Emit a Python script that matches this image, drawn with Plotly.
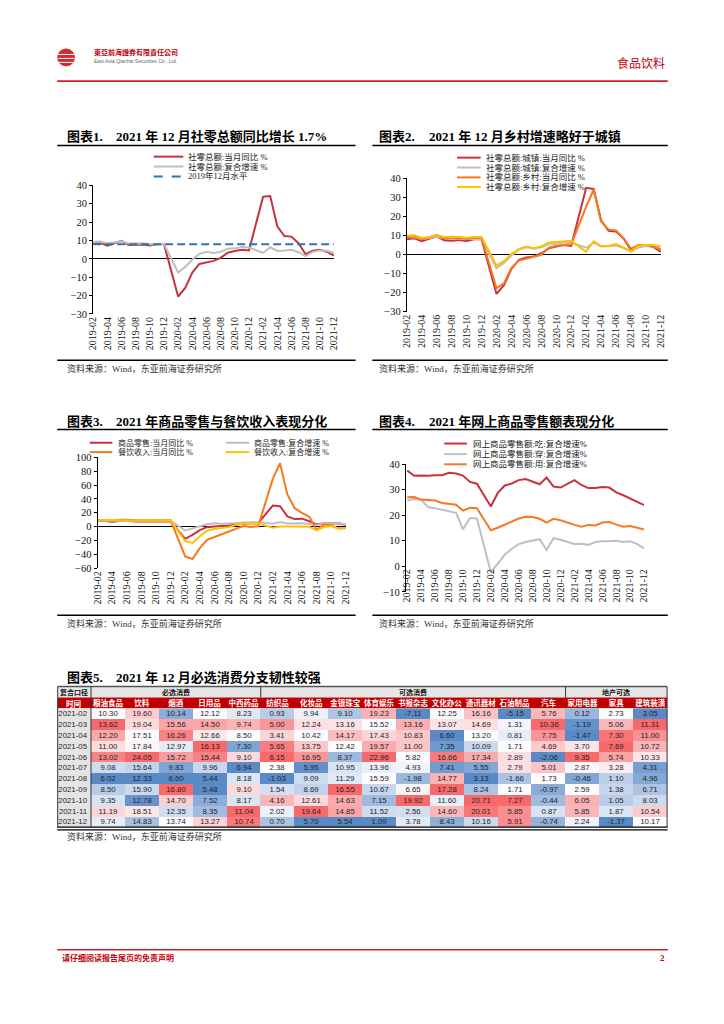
import statistics
import plotly.graph_objects as go

W, H = 724, 1024


def X(px):
    return px / W


def Y(py):
    return 1 - py / H


CJK = "Noto Sans CJK SC"
SERIF = "Liberation Serif, Noto Sans CJK SC"
SANS = "Liberation Sans, Noto Sans CJK SC"

# ---------------------------------------------------------------- data
MONTHS = ["2019-02", "2019-03", "2019-04", "2019-05", "2019-06", "2019-07", "2019-08", "2019-09",
          "2019-10", "2019-11", "2019-12",
          "2020-01", "2020-02", "2020-03", "2020-04", "2020-05", "2020-06", "2020-07", "2020-08",
          "2020-09", "2020-10", "2020-11", "2020-12",
          "2021-01", "2021-02", "2021-03", "2021-04", "2021-05", "2021-06", "2021-07", "2021-08",
          "2021-09", "2021-10", "2021-11", "2021-12"]
TICK_MONTHS = ["2019-02", "2019-04", "2019-06", "2019-08", "2019-10", "2019-12",
               "2020-02", "2020-04", "2020-06", "2020-08", "2020-10", "2020-12",
               "2021-02", "2021-04", "2021-06", "2021-08", "2021-10", "2021-12"]

# Chart 1
C1_TOTAL_YOY = [8.2, 8.7, 7.2, 8.6, 9.8, 7.6, 7.5, 7.8, 7.2, 8.0, 8.0,
                None, -20.5, -15.8, -7.5, -2.8, -1.8, -1.1, 0.5, 3.3, 4.3, 5.0, 4.6,
                None, 33.8, 34.2, 17.7, 12.4, 12.1, 8.5, 2.5, 4.4, 4.9, 3.9, 1.7]
C1_TOTAL_CAGR = [9.2, 9.4, 8.3, 8.9, 9.6, 8.4, 8.6, 8.5, 8.0, 8.3, 8.2,
                 None, -7.4, -4.4, -0.4, 2.7, 3.8, 3.2, 3.9, 5.5, 5.7, 6.5, 6.2,
                 None, 3.2, 6.3, 4.3, 4.5, 4.9, 3.6, 1.5, 3.8, 4.6, 4.4, 3.1]
C1_LEVEL_2019_12 = 8.0

# Chart 2
C2_URBAN_YOY = [8.0, 8.5, 7.0, 8.4, 9.5, 7.4, 7.2, 7.6, 7.0, 7.9, 7.9,
                None, -20.7, -16.1, -7.6, -2.8, -1.6, -1.1, 0.6, 3.2, 4.2, 4.9, 4.5,
                None, 34.9, 34.3, 17.8, 12.4, 12.0, 8.4, 2.3, 4.4, 4.8, 3.9, 1.3]
C2_URBAN_CAGR = [9.0, 9.0, 8.0, 8.5, 9.3, 8.5, 8.4, 8.4, 8.0, 8.0, 8.0,
                 None, -7.2, -4.5, -0.6, 2.6, 3.8, 3.0, 3.7, 5.3, 5.6, 6.3, 6.1,
                 None, 3.5, 6.2, 4.2, 4.3, 4.7, 3.4, 1.3, 3.6, 4.4, 4.3, 2.9]
C2_RURAL_YOY = [9.1, 9.5, 8.0, 9.2, 10.1, 8.5, 8.6, 8.7, 8.2, 8.8, 8.8,
                None, -17.7, -15.2, -7.0, -3.2, -2.2, -1.6, -0.2, 3.5, 4.5, 5.0, 5.2,
                None, 25.0, 33.9, 17.2, 13.0, 12.6, 8.6, 3.0, 4.9, 5.0, 4.2, 2.6]
C2_RURAL_CAGR = [9.8, 10.0, 8.6, 9.0, 10.2, 9.2, 9.3, 9.2, 8.7, 9.2, 9.2,
                 None, -5.8, -3.5, 0.3, 2.8, 4.2, 3.3, 4.2, 6.3, 6.7, 7.0, 7.2,
                 None, 1.4, 6.9, 4.4, 4.6, 5.4, 3.7, 1.7, 4.5, 5.1, 4.9, 4.2]

# Chart 3
C3_GOODS_YOY = [8.1, 8.5, 6.8, 8.2, 9.6, 7.5, 7.4, 7.7, 7.1, 7.9, 7.9,
                None, -17.6, -12.0, -5.1, -0.8, 0.2, 0.6, 1.6, 3.5, 4.6, 5.0, 4.9,
                None, 30.5, 29.6, 14.8, 10.9, 11.5, 7.8, 3.3, 4.5, 4.6, 4.8, 2.4]
C3_GOODS_CAGR = [8.6, 8.8, 7.6, 8.5, 9.4, 8.2, 8.1, 8.3, 7.6, 8.2, 8.3,
                 None, -5.5, -2.4, 0.8, 3.5, 4.7, 4.0, 4.5, 5.6, 5.9, 6.4, 6.3,
                 None, 4.2, 6.5, 4.5, 4.5, 5.0, 3.9, 2.4, 4.1, 4.6, 4.8, 3.6]
C3_CATER_YOY = [9.7, 9.6, 8.2, 9.9, 10.0, 9.1, 8.9, 9.1, 8.7, 9.3, 9.5,
                None, -43.1, -46.8, -31.1, -18.9, -15.2, -11.0, -7.0, -2.9, 0.8, -0.6, 0.4,
                None, 68.9, 91.6, 46.4, 26.6, 20.0, 14.3, -4.5, 3.1, 2.0, -2.7, -2.2]
C3_CATER_CAGR = [9.5, 9.6, 9.0, 9.6, 9.8, 9.0, 9.0, 9.0, 8.6, 9.2, 9.3,
                 None, -21.0, -23.5, -14.0, -6.0, -3.5, -2.0, -0.5, 2.5, 4.5, 4.2, 4.5,
                 None, -1.5, 0.2, 0.3, 0.5, 0.0, 0.0, -5.5, -0.5, 1.0, -2.5, -1.5]

# Chart 4
C4_FOOD = [37.4, 35.4, 35.5, 35.4, 35.6, 35.6, 36.6, 36.3, 35.5, 33.0, 32.3,
           None, 23.4, 28.7, 31.6, 32.4, 33.7, 34.1, 33.2, 32.1, 34.7, 31.2, 30.8,
           None, 33.7, 31.8, 30.6, 30.6, 31.0, 30.8, 28.9, 27.8, 26.5, 25.4, 23.9]
C4_CLOTH = [25.7, 26.3, 26.0, 23.1, 22.7, 22.1, 21.6, 20.9, 14.5, 18.9, 18.7,
            None, -2.3, 1.1, 4.6, 6.8, 8.7, 9.5, 10.0, 10.6, 6.4, 11.0, 10.4,
            None, 8.7, 8.8, 8.4, 9.5, 9.8, 9.8, 10.0, 9.5, 9.8, 8.7, 7.0]
C4_USE = [27.0, 27.1, 26.1, 25.8, 25.7, 24.8, 24.5, 24.1, 21.8, 22.9, 22.7,
          None, 14.1, 15.1, 16.2, 17.3, 18.7, 19.4, 19.3, 18.6, 17.1, 18.6, 18.0,
          None, 16.2, 15.5, 16.2, 16.0, 17.1, 17.3, 16.3, 15.5, 15.8, 15.1, 14.4]

# Table (chart 5)
T_DATES = ["2021-02", "2021-03", "2021-04", "2021-05", "2021-06", "2021-07",
           "2021-08", "2021-09", "2021-10", "2021-11", "2021-12"]
T_GRAIN = [10.30, 13.62, 12.20, 11.00, 13.02, 9.08, 6.02, 8.50, 9.35, 11.19, 9.74]
T_DRINK = [19.60, 19.04, 17.51, 17.84, 24.05, 15.64, 12.33, 15.90, 12.78, 18.51, 14.83]
T_TOBACCO = [10.14, 15.56, 16.26, 12.97, 15.72, 9.83, 8.60, 16.80, 14.70, 12.35, 13.74]
T_DAILY = [12.12, 14.50, 12.66, 16.13, 15.44, 9.96, 5.44, 5.48, 7.52, 8.35, 13.27]
T_MEDICINE = [8.23, 9.74, 8.50, 7.30, 9.10, 6.94, 8.18, 9.10, 8.17, 11.04, 10.74]
T_TEXTILE = [0.93, 5.00, 3.41, 5.65, 6.15, 2.38, -1.03, 1.54, 4.16, 2.02, 0.70]
T_COSMETIC = [9.94, 12.24, 10.42, 13.75, 16.95, 5.95, 9.09, 8.69, 12.61, 19.64, 5.70]
T_JEWELRY = [9.10, 13.16, 14.17, 12.42, 8.37, 10.95, 11.29, 16.55, 14.63, 14.85, 5.54]
T_SPORTS = [19.23, 15.52, 17.43, 19.57, 22.96, 13.96, 15.59, 10.67, 7.15, 11.52, 1.09]
T_BOOKS = [-7.11, 13.16, 10.83, 11.00, 5.82, 4.93, -1.98, 6.65, 19.92, 2.56, 3.78]
T_OFFICE = [12.25, 13.07, 6.60, 7.35, 16.66, 7.41, 14.77, 17.28, 11.60, 14.60, 8.43]
T_TELECOM = [16.16, 14.69, 13.20, 10.09, 17.34, 5.55, 3.13, 8.24, 20.71, 20.01, 10.16]
T_OIL = [-5.15, 1.31, 0.81, 1.71, 2.89, 2.79, -1.66, 1.71, 7.27, 5.85, 5.91]
T_AUTO = [5.76, 10.36, 7.75, 4.69, -2.06, 5.01, 1.73, -0.97, -0.44, 0.87, -0.74]
T_APPLIANCE = [0.12, -1.19, -1.47, 3.70, 9.35, 2.87, -0.46, 2.59, 6.05, 5.85, 2.24]
T_FURNITURE = [2.73, 5.06, 7.30, 7.69, 5.74, 3.28, 1.10, 1.38, 1.05, 1.87, -1.37]
T_BUILDING = [3.05, 11.31, 11.00, 10.72, 10.33, 4.31, 4.96, 6.71, 8.03, 10.54, 10.17]

T_HEADERS = ["粮油食品", "饮料", "烟酒", "日用品", "中西药品", "纺织品", "化妆品", "金银珠宝",
             "体育娱乐", "书报杂志", "文化办公", "通讯器材", "石油制品", "汽车", "家用电器",
             "家具", "建筑装潢"]
T_COLUMNS = [T_GRAIN, T_DRINK, T_TOBACCO, T_DAILY, T_MEDICINE, T_TEXTILE, T_COSMETIC,
             T_JEWELRY, T_SPORTS, T_BOOKS, T_OFFICE, T_TELECOM, T_OIL, T_AUTO,
             T_APPLIANCE, T_FURNITURE, T_BUILDING]

# ---------------------------------------------------------------- helpers
fig = go.Figure()
shapes = []
anns = []
layout = {}


def hline(x0, x1, y, color="#000", width=1.0, dash=None):
    shapes.append(dict(type="line", xref="paper", yref="paper", x0=X(x0), x1=X(x1),
                       y0=Y(y), y1=Y(y), line=dict(color=color, width=width, dash=dash)))


def vline(x, y0, y1, color="#000", width=1.0):
    shapes.append(dict(type="line", xref="paper", yref="paper", x0=X(x), x1=X(x),
                       y0=Y(y0), y1=Y(y1), line=dict(color=color, width=width)))


def rect(x0, y0, x1, y1, fill, layer="below"):
    shapes.append(dict(type="rect", xref="paper", yref="paper", x0=X(x0), x1=X(x1),
                       y0=Y(y1), y1=Y(y0), fillcolor=fill, line=dict(width=0), layer=layer))


def text(x, y, s, size=9, color="#000", family=CJK, xanchor="left", yanchor="middle"):
    anns.append(dict(x=X(x), y=Y(y), xref="paper", yref="paper",
                     text=s, showarrow=False, xanchor=xanchor, yanchor=yanchor,
                     font=dict(size=size, color=color, family=family)))


def legend_entry(x0, x1, y, color, dash, label, tx, size=8.5):
    hline(x0, x1, y, color=color, width=2, dash=dash)
    text(tx, y, label, size=size, color="#222", family=SERIF)


def ax_name(kind, idx):
    return kind + "axis" + ("" if idx == 1 else str(idx))


def ref(kind, idx):
    return kind + ("" if idx == 1 else str(idx))


def line_chart(idx, series, xpx, ypx, yrange, dtick, zeroline=True, free_x_at=None,
               xrange=(0, 34)):
    xa, ya = ref("x", idx), ref("y", idx)
    for vals, color, dash in series:
        fig.add_trace(go.Scatter(x=MONTHS, y=vals, mode="lines", connectgaps=True,
                                 line=dict(color=color, width=2, dash=dash),
                                 showlegend=False, hoverinfo="skip", xaxis=xa, yaxis=ya))
    xdef = dict(domain=[X(xpx[0]), X(xpx[1])], anchor=ya, type="category",
                categoryorder="array", categoryarray=MONTHS, range=list(xrange),
                tickmode="array", tickvals=TICK_MONTHS, ticktext=TICK_MONTHS,
                tickangle=-90, tickfont=dict(family="Liberation Serif", size=10, color="#111"),
                showgrid=False, zeroline=False, showline=False, ticks="")
    if free_x_at is not None:
        xdef["anchor"] = "free"
        xdef["position"] = Y(free_x_at)
    layout[ax_name("x", idx)] = xdef
    layout[ax_name("y", idx)] = dict(
        domain=[Y(ypx[1]), Y(ypx[0])], anchor=xa, range=list(yrange), dtick=dtick, tick0=0,
        showgrid=False, zeroline=zeroline, zerolinecolor="#000", zerolinewidth=1,
        showline=True, linecolor="#000", linewidth=1, ticks="outside", ticklen=3,
        tickcolor="#000", tickfont=dict(family="Liberation Serif", size=10.5, color="#111"))


DARKRED = "#C8323C"
GREY = "#BFBFBF"
ORANGE = "#F47920"
YELLOW = "#FFC000"
BLUE = "#2E75B6"

# ---------------------------------------------------------------- page header / footer
shapes.append(dict(type="circle", xref="paper", yref="paper", x0=X(52), x1=X(70),
                   y0=Y(62), y1=Y(44), fillcolor="#D7282F", line=dict(width=0)))
for yy in (50, 54, 58):
    hline(53, 69, yy, color="#FFFFFF", width=1)
text(87, 48, "<b>東亞前海證券有限責任公司</b>", size=7, color="#C0000A", family="Noto Sans CJK TC")
text(87, 57, "East Asia Qianhai Securities Co., Ltd.", size=5, color="#666", family="Liberation Sans")
text(671, 59, "食品饮料", size=12, color="#C0000A", family=SERIF, xanchor="right")
hline(52, 672, 77, color="#D42027", width=1.6)

hline(52, 672, 955, color="#D42027", width=1.4)
text(55, 963, "<b>请仔细阅读报告尾页的免责声明</b>", size=8, color="#C0000A", family=CJK)
text(671, 963, "<b>2</b>", size=9, color="#C0000A", family="Liberation Serif", xanchor="right")

SRC = "资料来源：Wind，东亚前海证券研究所"


def block_frame(xl, xr, title_y, rule_y, bottom_y, num, title, tx_num, tx_title):
    text(tx_num, title_y, "<b>图表%d.</b>" % num, size=13, color="#000", family=SERIF)
    text(tx_title, title_y, "<b>%s</b>" % title, size=13, color="#000", family=SERIF)
    hline(xl, xr, rule_y, color="#000", width=1.5)
    if bottom_y is not None:
        hline(xl, xr, bottom_y, color="#000", width=1.5)
        text(tx_num, bottom_y + 8, SRC, size=9, color="#333", family=SERIF)


# ---------------------------------------------------------------- chart 1
block_frame(52, 355, 133, 142, 359, 1, "2021 年 12 月社零总额同比增长 1.7%", 60, 110)
line_chart(1, [(C1_TOTAL_YOY, DARKRED, None),
               (C1_TOTAL_CAGR, GREY, None),
               ([C1_LEVEL_2019_12] * len(MONTHS), BLUE, "8px,4px")],
           (88.5, 333), (182.3, 312.3), (-30, 40), 10)
legend_entry(150, 180, 153.3, DARKRED, None, "社零总额:当月同比 %", 183)
legend_entry(150, 180, 163.3, GREY, None, "社零总额:复合增速 %", 183)
legend_entry(150, 180, 173.3, BLUE, "dash", "2019年12月水平", 183)

# ---------------------------------------------------------------- chart 2
block_frame(372, 672, 133, 142, 359, 2, "2021 年 12 月乡村增速略好于城镇", 377, 427)
line_chart(2, [(C2_URBAN_YOY, DARKRED, None),
               (C2_URBAN_CAGR, GREY, None),
               (C2_RURAL_YOY, ORANGE, None),
               (C2_RURAL_CAGR, YELLOW, None)],
           (407, 665), (175, 310), (-30, 40), 10)
legend_entry(458, 482, 154.3, DARKRED, None, "社零总额:城镇:当月同比 %", 485)
legend_entry(458, 482, 164.3, GREY, None, "社零总额:城镇:复合增速 %", 485)
legend_entry(458, 482, 174.3, ORANGE, None, "社零总额:乡村:当月同比 %", 485)
legend_entry(458, 482, 184.0, YELLOW, None, "社零总额:乡村:复合增速 %", 485)

# ---------------------------------------------------------------- chart 3
block_frame(52, 355, 421, 429, 617, 3, "2021 年商品零售与餐饮收入表现分化", 60, 110)
line_chart(3, [(C3_GOODS_YOY, DARKRED, None),
               (C3_GOODS_CAGR, GREY, None),
               (C3_CATER_YOY, ORANGE, None),
               (C3_CATER_CAGR, YELLOW, None)],
           (93, 345), (457.3, 569.3), (-60, 100), 20)
legend_entry(85, 108, 442.5, DARKRED, None, "商品零售:当月同比 %", 112, size=8)
legend_entry(85, 108, 452.0, ORANGE, None, "餐饮收入:当月同比 %", 112, size=8)
legend_entry(223, 247, 442.5, GREY, None, "商品零售:复合增速 %", 250, size=8)
legend_entry(223, 247, 452.0, YELLOW, None, "餐饮收入:复合增速 %", 250, size=8)

# ---------------------------------------------------------------- chart 4
block_frame(372, 672, 421, 429, 617, 4, "2021 年网上商品零售额表现分化", 377, 427)
line_chart(4, [(C4_FOOD, DARKRED, None),
               (C4_CLOTH, GREY, None),
               (C4_USE, ORANGE, None)],
           (406, 648), (464, 593.3), (-10, 40), 10, zeroline=False, free_x_at=567.3,
           xrange=(-0.2, 34))
legend_entry(445, 468, 443.3, DARKRED, None, "网上商品零售额:吃:复合增速%", 472)
legend_entry(445, 468, 454.0, GREY, None, "网上商品零售额:穿:复合增速%", 472)
legend_entry(445, 468, 464.3, ORANGE, None, "网上商品零售额:用:复合增速%", 472)

# ---------------------------------------------------------------- table (chart 5)
text(60, 680, "<b>图表5.</b>", size=13, family=SERIF)
text(110, 680, "<b>2021 年 12 月必选消费分支韧性较强</b>", size=13, family=SERIF)

T_LEFT, T_DATE_R, T_RIGHT = 52.5, 86.3, 671.3
T_TOP, T_GROUP_B, T_HEAD_B, T_BOT = 689, 700, 711, 831

BLUE_S, WHITE_S, RED_S = (90, 138, 198), (252, 252, 255), (248, 105, 107)


def scale_pos(v, col):
    lo, hi, mid = min(col), max(col), statistics.median(col)
    if v <= mid:
        return -1 + (v - lo) / (mid - lo) if mid > lo else 0
    return (v - mid) / (hi - mid) if hi > mid else 0


z = [[scale_pos(col[r], col) for col in T_COLUMNS] for r in range(len(T_DATES))]
txt = [["%.2f" % col[r] for col in T_COLUMNS] for r in range(len(T_DATES))]

fig.add_trace(go.Heatmap(
    x=T_HEADERS, y=T_DATES, z=z, text=txt, texttemplate="%{text}",
    textfont=dict(family="Liberation Sans", size=7.8, color="#262626"),
    zmin=-1, zmax=1, showscale=False, xgap=0, ygap=0, hoverinfo="skip",
    colorscale=[[0, "rgb(%d,%d,%d)" % BLUE_S], [0.5, "rgb(%d,%d,%d)" % WHITE_S],
                [1, "rgb(%d,%d,%d)" % RED_S]],
    xaxis="x5", yaxis="y5"))
layout["xaxis5"] = dict(domain=[X(T_DATE_R), X(T_RIGHT)], anchor="y5", side="top",
                        type="category", showgrid=False, zeroline=False, showline=False,
                        ticks="", tickmode="array", tickvals=T_HEADERS,
                        ticktext=["<b>%s</b>" % h for h in T_HEADERS],
                        tickfont=dict(family=CJK, size=7.5, color="#FFFFFF"),
                        ticklabelstandoff=0)
layout["yaxis5"] = dict(domain=[Y(T_BOT), Y(T_HEAD_B)], anchor="x5", type="category",
                        autorange="reversed", showgrid=False, zeroline=False,
                        showline=False, ticks="",
                        tickfont=dict(family="Liberation Sans", size=7.8, color="#262626"),
                        ticklabelstandoff=3)

rect(T_LEFT, T_TOP, T_RIGHT, T_GROUP_B, "#E7E6E6")
rect(T_LEFT, T_GROUP_B, T_RIGHT, T_HEAD_B, "#C00000")
rect(T_LEFT, T_HEAD_B, T_DATE_R, T_BOT, "#E4E4E4")
text(69.4, 694.3, "<b>复合口径</b>", size=7, color="#111", xanchor="center")
text(69.4, 705.9, "<b>时间</b>", size=7.5, color="#FFFFFF", xanchor="center")
for label, center_col in (("必选消费", "烟酒"), ("可选消费", "书报杂志"), ("地产可选", "家具")):
    anns.append(dict(x=center_col, xref="x5", y=Y(694.3), yref="paper", text="<b>%s</b>" % label,
                     showarrow=False, xanchor="center", yanchor="middle",
                     font=dict(size=7, color="#111", family=CJK)))

hline(T_LEFT, T_RIGHT, T_TOP, color="#555", width=1.5)
vline(T_LEFT, T_TOP, T_BOT, color="#333", width=1)
vline(T_RIGHT, T_TOP, T_BOT, color="#333", width=1)
vline(T_DATE_R, T_TOP, T_BOT, color="#333", width=1)
vline(258.7, T_TOP, T_GROUP_B, color="#333", width=1)
vline(568.2, T_TOP, T_GROUP_B, color="#333", width=1)
hline(T_LEFT - 0.5, T_RIGHT + 0.5, T_BOT, color="#000", width=1.2)
hline(T_LEFT - 0.5, T_RIGHT + 0.5, T_BOT + 2.8, color="#000", width=1.2)
text(60, 841, SRC, size=9, color="#333", family=SERIF)

# ---------------------------------------------------------------- layout
fig.update_layout(width=W, height=H, margin=dict(l=0, r=0, t=0, b=0),
                  paper_bgcolor="#FFFFFF", plot_bgcolor="rgba(0,0,0,0)",
                  showlegend=False, hovermode=False,
                  shapes=shapes, annotations=anns, **layout)
fig.write_html("out.html", config={"displayModeBar": False, "staticPlot": True},
               post_script="document.body.style.margin='0px';"
                           "document.body.style.overflow='hidden';")
